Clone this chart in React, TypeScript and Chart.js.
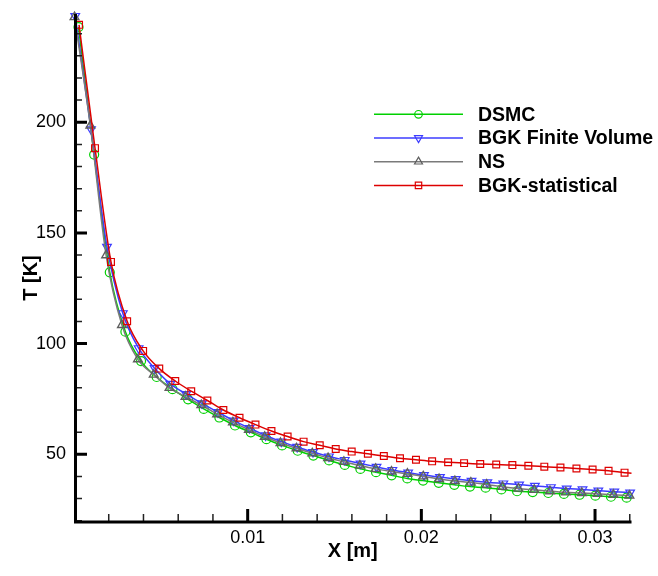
import React, { useEffect, useRef } from "react";
import { Chart, registerables } from "chart.js";

Chart.register(...registerables);

const FONT = "'Liberation Sans', Arial, Helvetica, sans-serif";

// ---- axis ticks ----
const xTickValues = [0.01, 0.02, 0.03];
const xTickLabels = ["0.01", "0.02", "0.03"];
const xMinorTicks = [0.002, 0.004, 0.006, 0.008, 0.012, 0.014, 0.016, 0.018, 0.022, 0.024, 0.026, 0.028, 0.032];
const yTickValues = [50, 100, 150, 200];
const yTickLabels = ["50", "100", "150", "200"];
const yMinorTicks = [20, 30, 40, 60, 70, 80, 90, 110, 120, 130, 140, 160, 170, 180, 190, 210, 220, 230, 240];

// ---- series ----
const dsmcX = [0.00026, 0.00116, 0.00206, 0.00296, 0.00386, 0.00476, 0.00567, 0.00657, 0.00747, 0.00837, 0.00927, 0.01018, 0.01108, 0.01198, 0.01288, 0.01378, 0.01469, 0.01559, 0.01649, 0.01739, 0.01829, 0.01919, 0.0201, 0.021, 0.0219, 0.0228, 0.0237, 0.02461, 0.02551, 0.02641, 0.02731, 0.02821, 0.02911, 0.03002, 0.03092, 0.03182, 0.0321];
const dsmcT = [243.0, 185.4, 132.2, 105.4, 92.1, 84.9, 79.4, 74.8, 70.5, 66.6, 63.0, 59.9, 56.8, 54.0, 51.6, 49.4, 47.2, 45.2, 43.4, 41.9, 40.5, 39.1, 38.1, 37.1, 36.2, 35.4, 34.9, 34.1, 33.3, 32.9, 32.5, 32.1, 31.7, 31.3, 30.8, 30.4, 30.3];

const bgkFvX = [0.00007, 0.00098, 0.0019, 0.00281, 0.00372, 0.00464, 0.00555, 0.00646, 0.00737, 0.00829, 0.0092, 0.01011, 0.01103, 0.01194, 0.01285, 0.01376, 0.01468, 0.01559, 0.0165, 0.01742, 0.01833, 0.01924, 0.02015, 0.02107, 0.02198, 0.02289, 0.0238, 0.02472, 0.02563, 0.02654, 0.02746, 0.02837, 0.02928, 0.03019, 0.03111, 0.03202];
const bgkFvT = [248.0, 196.8, 143.7, 113.7, 97.9, 88.9, 81.8, 77.2, 73.0, 69.0, 65.2, 61.8, 58.5, 55.7, 53.3, 51.0, 49.0, 47.4, 45.8, 44.3, 42.9, 41.7, 40.6, 39.7, 38.8, 38.0, 37.3, 36.8, 36.3, 35.7, 35.1, 34.5, 34.1, 33.6, 33.1, 32.7];

const nsX = [0.00003, 0.00094, 0.00185, 0.00276, 0.00368, 0.00459, 0.0055, 0.00642, 0.00733, 0.00824, 0.00915, 0.01007, 0.01098, 0.01189, 0.01281, 0.01372, 0.01463, 0.01554, 0.01646, 0.01737, 0.01828, 0.0192, 0.02011, 0.02102, 0.02193, 0.02285, 0.02376, 0.02467, 0.02559, 0.0265, 0.02741, 0.02832, 0.02924, 0.03015, 0.03106, 0.03198];
const nsT = [247.5, 198.5, 139.9, 108.4, 92.9, 86.0, 80.0, 76.0, 72.2, 68.1, 64.4, 61.1, 57.9, 55.1, 52.7, 50.4, 48.3, 46.6, 44.9, 43.4, 42.2, 41.2, 40.0, 38.8, 37.9, 37.2, 36.3, 35.3, 34.5, 33.9, 33.3, 32.8, 32.5, 32.1, 31.7, 31.3];

const bgkStatX = [0.00029, 0.00121, 0.00213, 0.00306, 0.00398, 0.00491, 0.00583, 0.00675, 0.00768, 0.0086, 0.00953, 0.01045, 0.01137, 0.0123, 0.01322, 0.01415, 0.01507, 0.01599, 0.01692, 0.01784, 0.01877, 0.01969, 0.02062, 0.02154, 0.02246, 0.02339, 0.02431, 0.02524, 0.02616, 0.02708, 0.02801, 0.02893, 0.02986, 0.03078, 0.0317, 0.0321];
const bgkStatT = [244.0, 188.3, 136.9, 110.1, 96.7, 88.7, 83.1, 78.5, 74.3, 70.0, 66.5, 63.4, 60.5, 58.0, 55.7, 54.1, 52.4, 51.2, 50.2, 49.2, 48.2, 47.5, 46.8, 46.4, 46.0, 45.6, 45.4, 45.1, 44.8, 44.4, 44.0, 43.6, 43.1, 42.5, 41.7, 41.4];

const seriesNames = ["DSMC", "BGK Finite Volume", "NS", "BGK-statistical"];

const GREEN = "#00d000";
const BLUE = "#3c3cff";
const GREY = "#7a7a7a";
const GREY_MK = "#5e5e5e";
const RED = "#dd0000";

const toPts = (xs: number[], ys: number[]) => xs.map((x, i) => ({ x, y: ys[i] }));

function drawMarker(ctx: CanvasRenderingContext2D, style: string, x: number, y: number, r: number, color: string) {
  ctx.save();
  ctx.strokeStyle = color;
  ctx.lineWidth = 1.2;
  ctx.beginPath();
  if (style === "circle") {
    ctx.arc(x, y, r, 0, Math.PI * 2);
  } else if (style === "tri") {
    ctx.moveTo(x, y - r);
    ctx.lineTo(x + r * 0.866, y + r * 0.5);
    ctx.lineTo(x - r * 0.866, y + r * 0.5);
    ctx.closePath();
  } else if (style === "itri") {
    ctx.moveTo(x, y + r);
    ctx.lineTo(x + r * 0.866, y - r * 0.5);
    ctx.lineTo(x - r * 0.866, y - r * 0.5);
    ctx.closePath();
  } else {
    ctx.rect(x - r, y - r, 2 * r, 2 * r);
  }
  ctx.stroke();
  ctx.restore();
}

const decorPlugin = {
  id: "decor",
  afterDraw(chart: any) {
    const { ctx, chartArea: a, scales } = chart;
    const xs = scales.x;
    const ys = scales.y;
    ctx.save();
    ctx.lineCap = "butt";
    // minor ticks
    ctx.lineWidth = 1.5;
    ctx.strokeStyle = "#222";
    ctx.beginPath();
    for (const v of yMinorTicks) {
      const py = ys.getPixelForValue(v);
      ctx.moveTo(a.left, py);
      ctx.lineTo(a.left + 8, py);
    }
    for (const v of xMinorTicks) {
      const px = xs.getPixelForValue(v);
      ctx.moveTo(px, a.bottom);
      ctx.lineTo(px, a.bottom - 8);
    }
    ctx.stroke();
    // major ticks
    ctx.strokeStyle = "#000";
    ctx.lineWidth = 3;
    ctx.beginPath();
    for (const v of yTickValues) {
      const py = ys.getPixelForValue(v);
      ctx.moveTo(a.left, py);
      ctx.lineTo(a.left + 13, py);
    }
    for (const v of xTickValues) {
      const px = xs.getPixelForValue(v);
      ctx.moveTo(px, a.bottom);
      ctx.lineTo(px, a.bottom - 13);
    }
    ctx.stroke();
    // axis lines
    ctx.lineWidth = 3;
    ctx.beginPath();
    ctx.moveTo(a.left + 1.5, a.top);
    ctx.lineTo(a.left + 1.5, a.bottom + 1.5);
    ctx.moveTo(a.left, a.bottom);
    ctx.lineTo(a.right, a.bottom);
    ctx.stroke();

    // axis titles
    ctx.fillStyle = "#000";
    ctx.font = `bold 20px ${FONT}`;
    ctx.textAlign = "center";
    ctx.textBaseline = "middle";
    ctx.fillText("X [m]", (a.left + a.right) / 2, 551);
    ctx.save();
    ctx.translate(31, 278);
    ctx.rotate(-Math.PI / 2);
    ctx.fillText("T [K]", 0, 0);
    ctx.restore();

    // legend
    const rows = [
      { color: GREEN, mk: GREEN, style: "circle", r: 3.8 },
      { color: BLUE, mk: BLUE, style: "itri", r: 4.6 },
      { color: GREY, mk: GREY_MK, style: "tri", r: 4.6 },
      { color: RED, mk: RED, style: "rect", r: 3.2 },
    ];
    rows.forEach((row, i) => {
      const y = 114.3 + i * 23.7;
      ctx.strokeStyle = row.color;
      ctx.lineWidth = 1.5;
      ctx.beginPath();
      ctx.moveTo(374, y);
      ctx.lineTo(463, y);
      ctx.stroke();
      drawMarker(ctx, row.style, 418.5, y, row.r, row.mk);
      ctx.fillStyle = "#000";
      ctx.font = `bold 19.5px ${FONT}`;
      ctx.textAlign = "left";
      ctx.textBaseline = "middle";
      ctx.fillText(seriesNames[i], 478, y + 1);
    });
    ctx.restore();
  },
};

export default function App() {
  const ref = useRef<HTMLCanvasElement | null>(null);
  useEffect(() => {
    if (!ref.current) return;
    const chart = new Chart(ref.current, {
      type: "line",
      data: {
        datasets: [
          {
            label: seriesNames[0],
            data: toPts(dsmcX, dsmcT),
            borderColor: GREEN,
            backgroundColor: "rgba(0,0,0,0)",
            pointBorderColor: GREEN,
            borderWidth: 1.5,
            pointStyle: "circle",
            pointRadius: (c: any) => (c.dataIndex === dsmcX.length - 1 ? 0 : 4.5),
            pointBorderWidth: 1.2,
            cubicInterpolationMode: "monotone",
            clip: false,
            order: 3,
          },
          {
            label: seriesNames[1],
            data: toPts(bgkFvX, bgkFvT),
            borderColor: BLUE,
            backgroundColor: "rgba(0,0,0,0)",
            pointBorderColor: BLUE,
            borderWidth: 1.5,
            pointStyle: "triangle",
            pointRotation: 180,
            pointRadius: 5,
            pointBorderWidth: 1.2,
            cubicInterpolationMode: "monotone",
            clip: false,
            order: 2,
          },
          {
            label: seriesNames[2],
            data: toPts(nsX, nsT),
            borderColor: GREY,
            backgroundColor: "rgba(0,0,0,0)",
            pointBorderColor: GREY_MK,
            borderWidth: 1.5,
            pointStyle: "triangle",
            pointRadius: 5,
            pointBorderWidth: 1.4,
            cubicInterpolationMode: "monotone",
            clip: false,
            order: 1,
          },
          {
            label: seriesNames[3],
            data: toPts(bgkStatX, bgkStatT),
            borderColor: RED,
            backgroundColor: "rgba(0,0,0,0)",
            pointBorderColor: RED,
            borderWidth: 1.5,
            pointStyle: "rect",
            pointRadius: (c: any) => (c.dataIndex === bgkStatX.length - 1 ? 0 : 4.8),
            pointBorderWidth: 1.2,
            cubicInterpolationMode: "monotone",
            clip: false,
            order: 0,
          },
        ] as any,
      },
      options: {
        animation: false,
        responsive: false,
        events: [],
        layout: { padding: { top: 14, right: 26.5, left: 0, bottom: 0 } },
        plugins: { legend: { display: false }, tooltip: { enabled: false } },
        scales: {
          x: {
            type: "linear",
            min: 0,
            max: 0.0321,
            grid: { display: false, drawTicks: false },
            border: { display: false },
            afterBuildTicks: (s: any) => {
              s.ticks = xTickValues.map((v) => ({ value: v }));
            },
            afterFit: (s: any) => {
              s.height = 54;
              s.paddingLeft = 0;
              s.paddingRight = 0;
            },
            ticks: {
              autoSkip: false,
              maxRotation: 0,
              padding: 5,
              color: "#000",
              font: { family: FONT, size: 18 },
              callback: (_v: any, i: number) => xTickLabels[i],
            },
          },
          y: {
            type: "linear",
            min: 19.4,
            max: 248.9,
            grid: { display: false, drawTicks: false },
            border: { display: false },
            afterBuildTicks: (s: any) => {
              s.ticks = yTickValues.map((v) => ({ value: v }));
            },
            afterFit: (s: any) => {
              s.width = 74;
              s.paddingTop = 0;
              s.paddingBottom = 0;
            },
            ticks: {
              autoSkip: false,
              padding: 8,
              color: "#000",
              font: { family: FONT, size: 18 },
              callback: (_v: any, i: number) => yTickLabels[i],
            },
          },
        },
      } as any,
      plugins: [decorPlugin],
    });
    return () => chart.destroy();
  }, []);
  return (
    <div style={{ position: "absolute", left: 0, top: 0, width: 658, height: 576, background: "#fff" }}>
      <canvas ref={ref} width={658} height={576} />
    </div>
  );
}
